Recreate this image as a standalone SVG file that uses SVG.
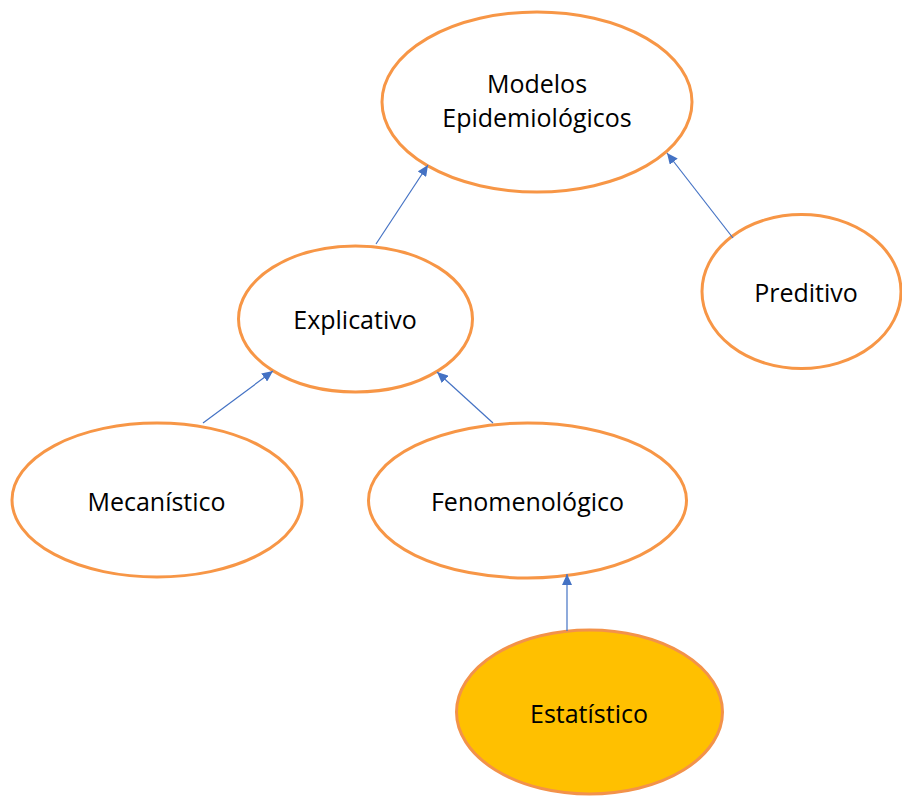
<svg xmlns="http://www.w3.org/2000/svg" width="902" height="796" viewBox="0 0 902 796">
  <style>
    .node ellipse { fill: #FFFFFF; stroke: #F79646; stroke-width: 3; }
    .node.filled ellipse { fill: #FFC000; stroke: #F3924A; }
    .node text { font-family: "Open Sans", "Noto Sans", "Liberation Sans", sans-serif; font-size: 25px; fill: #000000; text-anchor: middle; }
    .edge { stroke: #4472C4; stroke-width: 1.2; fill: none; marker-end: url(#arrow); }
  </style>
  <defs>
    <marker id="arrow" markerUnits="userSpaceOnUse" markerWidth="12" markerHeight="10" refX="11" refY="5" orient="auto">
      <path d="M0,0 L11,5 L0,10 Z" fill="#4472C4"/>
    </marker>
  </defs>
  <rect width="902" height="796" fill="#FFFFFF"/>

  <g id="modelos" class="node">
    <ellipse cx="537" cy="102" rx="155" ry="90"/>
    <text x="537" y="93">Modelos</text>
    <text x="537" y="127">Epidemiológicos</text>
  </g>

  <g id="explicativo" class="node">
    <ellipse cx="355.5" cy="319" rx="117" ry="73"/>
    <text x="355" y="329">Explicativo</text>
  </g>

  <g id="preditivo" class="node">
    <ellipse cx="801.5" cy="291.5" rx="99.5" ry="77"/>
    <text x="806" y="302">Preditivo</text>
  </g>

  <g id="mecanistico" class="node">
    <ellipse cx="157" cy="500" rx="145" ry="77"/>
    <text x="156.5" y="511">Mecanístico</text>
  </g>

  <g id="fenomenologico" class="node">
    <ellipse cx="527.5" cy="500.5" rx="159" ry="77.5"/>
    <text x="527.5" y="511">Fenomenológico</text>
  </g>

  <g id="estatistico" class="node filled">
    <ellipse cx="589.5" cy="712" rx="133" ry="82"/>
    <text x="589" y="723">Estatístico</text>
  </g>

  <g id="connectors">
    <line class="edge" x1="376" y1="244" x2="428" y2="165"/>
    <line class="edge" x1="733" y1="238" x2="667" y2="153"/>
    <line class="edge" x1="203" y1="423" x2="273" y2="371"/>
    <line class="edge" x1="493" y1="423" x2="437" y2="372"/>
    <line class="edge" x1="567" y1="631" x2="567" y2="574"/>
  </g>
</svg>
